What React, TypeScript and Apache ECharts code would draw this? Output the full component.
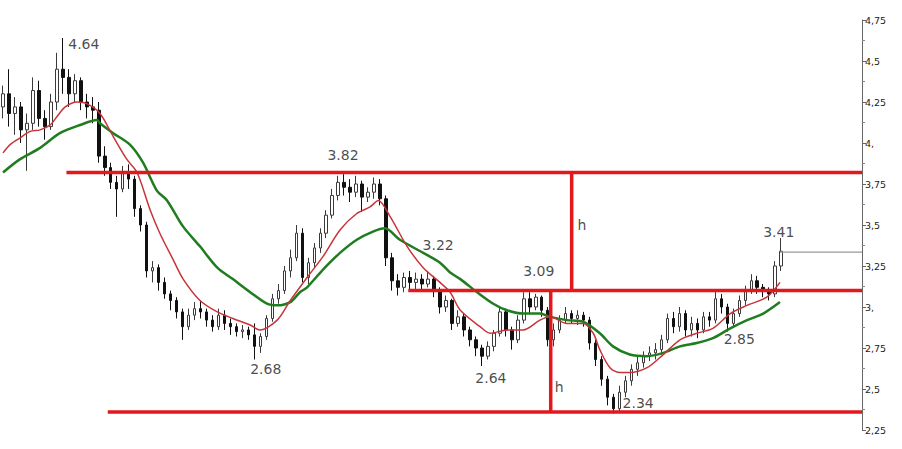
import React, { useEffect, useRef } from "react";
import * as echarts from "echarts";

// Candles: [open, close, low, high]
const candles: number[][] = [
  [4.22, 4.30, 4.15, 4.35], [4.30, 4.18, 4.10, 4.45], [4.18, 4.22, 4.05, 4.28], [4.22, 4.08, 4.00, 4.25], [4.08, 4.12, 3.83, 4.18],
  [4.12, 4.32, 4.08, 4.40], [4.32, 4.15, 4.10, 4.38], [4.15, 4.10, 4.02, 4.20], [4.10, 4.25, 4.08, 4.30], [4.25, 4.45, 4.20, 4.55],
  [4.45, 4.40, 4.30, 4.64], [4.40, 4.30, 4.22, 4.45], [4.30, 4.38, 4.25, 4.42], [4.38, 4.25, 4.20, 4.40], [4.25, 4.22, 4.15, 4.30],
  [4.22, 4.20, 4.12, 4.28], [4.20, 3.92, 3.88, 4.25], [3.92, 3.85, 3.80, 3.98], [3.85, 3.76, 3.72, 3.88], [3.76, 3.72, 3.55, 3.80],
  [3.72, 3.82, 3.70, 3.86], [3.82, 3.78, 3.72, 3.87], [3.78, 3.60, 3.55, 3.80], [3.60, 3.50, 3.46, 3.62], [3.50, 3.22, 3.18, 3.52],
  [3.22, 3.24, 3.15, 3.28], [3.24, 3.15, 3.10, 3.26], [3.15, 3.08, 3.05, 3.18], [3.08, 3.04, 2.98, 3.10], [3.04, 2.97, 2.93, 3.06],
  [2.97, 2.88, 2.80, 2.99], [2.88, 2.95, 2.86, 2.99], [2.95, 2.99, 2.92, 3.03], [2.99, 2.97, 2.93, 3.04], [2.97, 2.92, 2.88, 2.99],
  [2.92, 2.88, 2.85, 2.95], [2.88, 2.95, 2.86, 2.99], [2.95, 2.90, 2.86, 2.98], [2.90, 2.88, 2.83, 2.93], [2.88, 2.85, 2.82, 2.90],
  [2.85, 2.86, 2.81, 2.89], [2.86, 2.83, 2.80, 2.88], [2.83, 2.76, 2.68, 2.90], [2.76, 2.82, 2.72, 2.84], [2.82, 2.93, 2.80, 2.95],
  [2.93, 3.05, 2.91, 3.08], [3.05, 3.10, 3.02, 3.14], [3.10, 3.22, 3.08, 3.25], [3.22, 3.30, 3.18, 3.35], [3.30, 3.45, 3.28, 3.50],
  [3.45, 3.18, 3.15, 3.48], [3.18, 3.27, 3.14, 3.30], [3.27, 3.36, 3.24, 3.39], [3.36, 3.45, 3.33, 3.48], [3.45, 3.56, 3.42, 3.59],
  [3.56, 3.68, 3.54, 3.72], [3.68, 3.76, 3.65, 3.80], [3.76, 3.73, 3.68, 3.81], [3.73, 3.70, 3.64, 3.78], [3.70, 3.75, 3.67, 3.80],
  [3.75, 3.67, 3.58, 3.77], [3.67, 3.70, 3.64, 3.73], [3.70, 3.75, 3.66, 3.79], [3.75, 3.66, 3.62, 3.78], [3.66, 3.30, 3.25, 3.68],
  [3.30, 3.16, 3.10, 3.33], [3.16, 3.12, 3.07, 3.20], [3.12, 3.18, 3.09, 3.21], [3.18, 3.15, 3.10, 3.22], [3.15, 3.17, 3.11, 3.21],
  [3.17, 3.14, 3.10, 3.20], [3.14, 3.17, 3.12, 3.22], [3.17, 3.10, 3.06, 3.19], [3.10, 3.00, 2.96, 3.12], [3.00, 3.04, 2.97, 3.07],
  [3.04, 2.90, 2.86, 3.05], [2.90, 2.94, 2.88, 2.98], [2.94, 2.86, 2.82, 2.96], [2.86, 2.80, 2.76, 2.88], [2.80, 2.75, 2.70, 2.82],
  [2.75, 2.70, 2.64, 2.77], [2.70, 2.76, 2.68, 2.79], [2.76, 2.84, 2.73, 2.86], [2.84, 2.97, 2.82, 3.00], [2.97, 2.86, 2.82, 2.99],
  [2.86, 2.80, 2.74, 2.88], [2.80, 2.92, 2.78, 2.95], [2.92, 3.05, 2.90, 3.09], [3.05, 3.00, 2.96, 3.09], [3.00, 3.06, 2.98, 3.08],
  [3.06, 2.98, 2.94, 3.07], [2.98, 2.80, 2.76, 3.00], [2.80, 2.86, 2.76, 2.90], [2.86, 2.92, 2.84, 2.95], [2.92, 2.96, 2.90, 3.00],
  [2.96, 2.93, 2.90, 2.98], [2.93, 2.95, 2.89, 2.98], [2.95, 2.92, 2.88, 2.97], [2.92, 2.78, 2.74, 2.94], [2.78, 2.68, 2.64, 2.80],
  [2.68, 2.56, 2.52, 2.70], [2.56, 2.45, 2.40, 2.58], [2.45, 2.38, 2.35, 2.47], [2.38, 2.48, 2.36, 2.52], [2.48, 2.55, 2.45, 2.58],
  [2.55, 2.62, 2.52, 2.65], [2.62, 2.66, 2.58, 2.70], [2.66, 2.70, 2.63, 2.73], [2.70, 2.72, 2.67, 2.76], [2.72, 2.74, 2.68, 2.78],
  [2.74, 2.80, 2.71, 2.83], [2.80, 2.93, 2.78, 2.96], [2.93, 2.88, 2.84, 2.97], [2.88, 2.96, 2.85, 3.00], [2.96, 2.86, 2.82, 2.98],
  [2.86, 2.90, 2.82, 2.94], [2.90, 2.86, 2.81, 2.93], [2.86, 2.94, 2.84, 2.97], [2.94, 2.92, 2.88, 2.97], [2.92, 3.05, 2.90, 3.10],
  [3.05, 3.00, 2.96, 3.08], [3.00, 2.90, 2.85, 3.02], [2.90, 2.96, 2.88, 2.99], [2.96, 3.04, 2.94, 3.07], [3.04, 3.10, 3.01, 3.13],
  [3.10, 3.16, 3.08, 3.20], [3.16, 3.12, 3.08, 3.19], [3.12, 3.10, 3.06, 3.14], [3.10, 3.08, 3.04, 3.12], [3.08, 3.25, 3.06, 3.28],
  [3.25, 3.34, 3.22, 3.42],
];

const TOTAL_SLOTS = 144;

// Fast moving average (red), sampled [bar index, price]
const maFast: number[][] = [
  [0, 3.94], [1.2, 3.99], [2.8, 4.03], [4.5, 4.07], [6.2, 4.08], [7.9, 4.11], [9.0, 4.16], [10.4, 4.22], [12.4, 4.25],
  [14.0, 4.24], [16.2, 4.18], [18.4, 4.04], [20.7, 3.90], [22.4, 3.82], [24.6, 3.59], [26.2, 3.45], [28.4, 3.29],
  [30.1, 3.17], [32.9, 3.04], [35.8, 2.97], [38.4, 2.93], [41.3, 2.89], [42.9, 2.86], [45.8, 2.92], [48.0, 3.04],
  [50.8, 3.18], [53.5, 3.31], [56.3, 3.47], [59.1, 3.57], [61.3, 3.61], [62.7, 3.65], [64.7, 3.55], [67.5, 3.37],
  [70.2, 3.24], [73.0, 3.15], [74.7, 3.09], [76.4, 2.98], [79.7, 2.88], [81.4, 2.84], [84.2, 2.86], [86.9, 2.86],
  [89.7, 2.92], [91.4, 2.94], [94.2, 2.90], [96.9, 2.90], [98.6, 2.84], [99.7, 2.74], [101.4, 2.63], [103.1, 2.60],
  [104.7, 2.60], [107.6, 2.63], [110.3, 2.71], [113.1, 2.80], [115.9, 2.84], [118.6, 2.87], [121.5, 2.96],
  [124.3, 3.01], [127.6, 3.06], [129.8, 3.15],
];

// Slow moving average (green), sampled [bar index, price]
const maSlow: number[][] = [
  [0, 3.82], [2.8, 3.90], [6.2, 3.97], [9.5, 4.06], [12.9, 4.11], [15.7, 4.14], [16.2, 4.12], [18.4, 4.06],
  [21.2, 3.99], [23.4, 3.88], [25.7, 3.71], [27.4, 3.65], [30.1, 3.49], [32.9, 3.37], [35.8, 3.24], [38.4, 3.17],
  [41.3, 3.09], [44.1, 3.02], [45.8, 3.01], [48.0, 3.03], [49.6, 3.09], [50.8, 3.12], [53.5, 3.23], [56.3, 3.33],
  [59.1, 3.41], [61.8, 3.46], [63.8, 3.48], [66.3, 3.41], [70.2, 3.33], [73.0, 3.27], [74.7, 3.21], [76.4, 3.17],
  [79.2, 3.09], [81.9, 3.02], [84.2, 2.98], [86.9, 2.96], [89.7, 2.96], [91.4, 2.94], [94.2, 2.92], [96.9, 2.91],
  [99.7, 2.84], [101.9, 2.76], [104.7, 2.71], [107.6, 2.70], [110.3, 2.72], [113.1, 2.76], [115.9, 2.78],
  [118.6, 2.81], [121.5, 2.87], [124.3, 2.92], [127.0, 2.96], [129.8, 3.03],
];

// Horizontal levels: price and starting bar index
const levelPrices = [3.82, 3.1, 2.36];
const levelStarts = [10.6, 67.7, 17.5];

// Vertical "h" measures: [bar index, from price, to price]
const measures: number[][] = [
  [95.0, 3.82, 3.1],
  [91.5, 3.1, 2.36],
];

const lastPrice = 3.335;
const lastPriceStart = 129.8;

// Annotations: text and anchor [bar index, price]
const annotationTexts = ["4.64", "3.82", "3.22", "3.09", "2.68", "2.64", "2.34", "2.85", "3.41", "h", "h"];
const annotationAnchors: number[][] = [
  [13.5, 4.604], [56.8, 3.927], [72.7, 3.378], [89.5, 3.22], [43.9, 2.622], [81.5, 2.567],
  [106.1, 2.415], [123.0, 2.805], [129.6, 3.457], [96.7, 3.5], [92.9, 2.512],
];

const yTicks = { min: 2.25, max: 4.75, step: 0.25 };

export default function App() {
  const ref = useRef<HTMLDivElement>(null);

  useEffect(() => {
    if (!ref.current) return;
    const chart = echarts.init(ref.current, null, { renderer: "svg" });
    const categories = Array.from({ length: TOTAL_SLOTS }, (_, i) => String(i));
    const xEnd = TOTAL_SLOTS - 0.5;
    const red = "#e3181d";

    const series: any[] = [
      {
        type: "candlestick",
        xAxisIndex: 0,
        yAxisIndex: 0,
        data: candles,
        barWidth: 3,
        itemStyle: {
          color: "#ffffff",
          color0: "#111111",
          borderColor: "#3a3a3a",
          borderColor0: "#111111",
          borderWidth: 1,
        },
        z: 2,
      },
      {
        type: "line",
        xAxisIndex: 1,
        yAxisIndex: 0,
        data: maSlow,
        smooth: 0.3,
        showSymbol: false,
        lineStyle: { color: "#1f7d1f", width: 2.5 },
        z: 3,
      },
      {
        type: "line",
        xAxisIndex: 1,
        yAxisIndex: 0,
        data: maFast,
        smooth: 0.3,
        showSymbol: false,
        lineStyle: { color: "#c8343a", width: 1.5 },
        z: 4,
      },
    ];

    levelPrices.forEach((p, k) => {
      series.push({
        type: "line",
        xAxisIndex: 1,
        yAxisIndex: 0,
        data: [[levelStarts[k], p], [xEnd, p]],
        showSymbol: false,
        lineStyle: { color: red, width: 3.5 },
        z: 5,
      });
    });
    measures.forEach((m) => {
      series.push({
        type: "line",
        xAxisIndex: 1,
        yAxisIndex: 0,
        data: [[m[0], m[1]], [m[0], m[2]]],
        showSymbol: false,
        lineStyle: { color: red, width: 3.5 },
        z: 5,
      });
    });
    series.push({
      type: "line",
      xAxisIndex: 1,
      yAxisIndex: 0,
      data: [[lastPriceStart, lastPrice], [xEnd, lastPrice]],
      showSymbol: false,
      lineStyle: { color: "#999999", width: 1.2 },
      z: 5,
    });
    series.push({
      type: "scatter",
      xAxisIndex: 1,
      yAxisIndex: 0,
      symbolSize: 1,
      itemStyle: { color: "rgba(0,0,0,0)" },
      data: annotationTexts.map((t, k) => ({ name: t, value: annotationAnchors[k] })),
      label: {
        show: true,
        position: "inside",
        formatter: "{b}",
        fontFamily: "DejaVu Sans",
        fontSize: 14,
        color: "#1a1a1a",
      },
      z: 6,
    });

    chart.setOption({
      animation: false,
      backgroundColor: "#ffffff",
      grid: { left: 0, right: 40, top: 20, bottom: 19 },
      xAxis: [
        { type: "category", data: categories, show: false, boundaryGap: true },
        { type: "value", min: -0.5, max: xEnd, show: false },
      ],
      yAxis: {
        type: "value",
        position: "right",
        min: yTicks.min,
        max: yTicks.max,
        interval: yTicks.step,
        axisLine: { show: true, onZero: false, lineStyle: { color: "#666666", width: 1 } },
        axisTick: { show: true, length: 4, lineStyle: { color: "#666666" } },
        minorTick: { show: true, splitNumber: 2, length: 3, lineStyle: { color: "#888888" } },
        splitLine: { show: false },
        axisLabel: {
          margin: 3,
          fontFamily: "DejaVu Sans",
          fontSize: 9.5,
          color: "#222222",
          formatter: (v: number) => {
            const s = String(Math.round(v * 100) / 100);
            return s.includes(".") ? s.replace(".", ",") : s + ",";
          },
        },
      },
      series,
    });
    return () => chart.dispose();
  }, []);

  return (
    <div
      ref={ref}
      style={{ position: "fixed", left: 0, top: 0, width: 902, height: 449, background: "#fff" }}
    />
  );
}
